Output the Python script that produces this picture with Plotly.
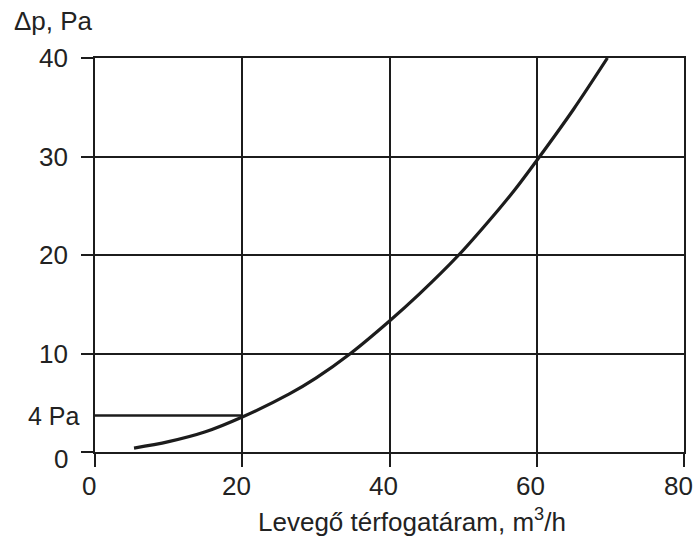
import plotly.graph_objects as go

# Data
flow = [5.3, 10, 15, 20, 26.4, 30, 34.7, 40, 44, 49.4, 54.8, 57.1, 60.4, 65, 69.6]
dp = [0.4, 1.05, 2.05, 3.55, 5.9, 7.5, 10.0, 13.3, 16.0, 20.0, 24.6, 26.7, 30.0, 34.8, 40.0]
marker_x = [0, 20]
marker_y = [3.7, 3.7]
marker_label = "4 Pa"
x_ticks = [0, 20, 40, 60, 80]
y_ticks = [0, 10, 20, 30, 40]

INK = "#1c1c1c"
TXT = "#222222"
FONT = "Liberation Sans, Arial, sans-serif"

fig = go.Figure()
fig.add_trace(go.Scatter(x=marker_x, y=marker_y, mode="lines",
                         line=dict(color=INK, width=2.6), showlegend=False,
                         hoverinfo="skip", cliponaxis=False))
fig.add_trace(go.Scatter(x=flow, y=dp, mode="lines",
                         line=dict(color=INK, width=3.2, shape="spline", smoothing=1.0),
                         showlegend=False, cliponaxis=False))

annotations = []
for v in x_ticks:
    annotations.append(dict(x=v, y=0, xref="x", yref="y", text=str(v), showarrow=False,
                            xanchor="center", yanchor="middle", xshift=-6, yshift=-34,
                            font=dict(size=26, color=TXT, family=FONT)))
for v in y_ticks:
    annotations.append(dict(x=0, y=v, xref="x", yref="y", text=str(v), showarrow=False,
                            xanchor="right", yanchor="middle", xshift=-25,
                            yshift=(-7 if v == 0 else 0),
                            font=dict(size=26, color=TXT, family=FONT)))
annotations.append(dict(x=0, y=marker_y[0], xref="x", yref="y", text=marker_label,
                        showarrow=False, xanchor="right", yanchor="middle", xshift=-13,
                        font=dict(size=25, color=TXT, family=FONT)))
annotations.append(dict(x=(12 - 95) / 591, y=1 + (58 - 21) / 394, xref="paper", yref="paper",
                        text="Δp, Pa", showarrow=False, xanchor="left", yanchor="middle",
                        font=dict(size=26, color=TXT, family=FONT)))
annotations.append(dict(x=0.5, y=0, xref="paper", yref="paper",
                        text="Levegő térfogatáram, m<sup>3</sup>/h",
                        showarrow=False, xanchor="center", yanchor="middle", yshift=-68, xshift=22,
                        font=dict(size=26, color=TXT, family=FONT)))

fig.update_layout(
    width=695, height=543,
    margin=dict(l=95, r=9, t=58, b=91),
    paper_bgcolor="white", plot_bgcolor="white",
    annotations=annotations,
    xaxis=dict(range=[0, 80], tickvals=x_ticks, showticklabels=False,
               showgrid=True, gridcolor=INK, gridwidth=2,
               showline=True, linecolor=INK, linewidth=2, mirror=True,
               ticks="outside", ticklen=13, tickwidth=2, tickcolor=INK,
               zeroline=False, fixedrange=True),
    yaxis=dict(range=[0, 40], tickvals=y_ticks, showticklabels=False,
               showgrid=True, gridcolor=INK, gridwidth=2,
               showline=True, linecolor=INK, linewidth=2, mirror=True,
               ticks="outside", ticklen=12, tickwidth=2, tickcolor=INK,
               zeroline=False, fixedrange=True),
)

fig.write_html("out.html")
